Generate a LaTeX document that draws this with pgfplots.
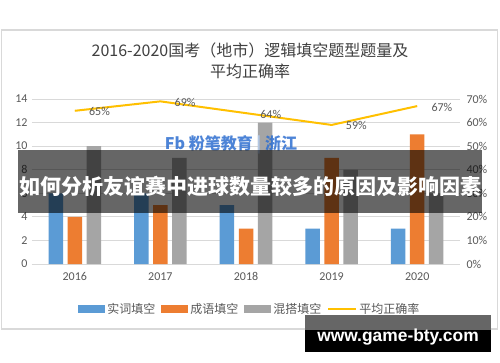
\documentclass[border=0pt]{standalone}
\usepackage{pgfplots}
\pgfplotsset{compat=1.18}
\usepackage{fontspec}
\setmainfont{Carlito}
\newfontfamily\cjk{Noto Sans CJK SC}
\newfontfamily\wmfont{Liberation Sans}
\definecolor{cblue}{HTML}{5B9BD5}
\definecolor{corange}{HTML}{ED7D31}
\definecolor{cgray}{HTML}{A5A5A5}
\definecolor{cgold}{HTML}{FFC000}
\definecolor{ctext}{HTML}{595959}
\definecolor{cgrid}{HTML}{D9D9D9}
\definecolor{logoblue}{HTML}{2F6FD0}
\begin{document}
\begin{tikzpicture}
\fill[white] (0pt,0pt) rectangle (500pt,362pt);
\draw[cgrid, line width=1.2pt] (1.5pt,33pt) rectangle (497.5pt,332pt);
\node[font=\cjk\fontsize{16}{21}\selectfont, text=black!75, align=center] at (250pt,301pt) {2016-2020国考（地市）逻辑填空题型题量及\\平均正确率};
\begin{axis}[at={(32pt,98pt)}, anchor=south west, scale only axis,
  width=428pt, height=165pt,
  xmin=-0.5, xmax=4.5, ymin=0, ymax=14,
  ytick={0,2,...,14}, xtick={0,1,2,3,4},
  xticklabels={2016,2017,2018,2019,2020},
  ybar=4.5pt, bar width=14.5pt,
  axis y line*=left, axis x line*=bottom,
  y axis line style={draw=none},
  x axis line style={cgrid, line width=0.8pt, -},
  ymajorgrids, grid style={cgrid, line width=0.8pt},
  major tick length=0pt,
  /pgf/number format/assume math mode=true,
  tick label style={font=\fontsize{12}{14}\selectfont, text=ctext},
  yticklabel style={xshift=-1pt},
  xticklabel style={yshift=-5pt},
  legend style={at={(0.509,-0.273)}, anchor=center, draw=none, fill=none,
    legend columns=4, font=\cjk\fontsize{12}{14}\selectfont, text=ctext,
    /tikz/every even column/.append style={column sep=4pt},
    legend cell align=left},
]
\addplot[fill=cblue, draw=none, legend image code/.code={\fill[cblue] (0pt,-4pt) rectangle (27pt,4pt);}] coordinates {(0,6) (1,6) (2,5) (3,3) (4,3)};
\addlegendentry{实词填空}
\addplot[fill=corange, draw=none, legend image code/.code={\fill[corange] (0pt,-4pt) rectangle (27pt,4pt);}] coordinates {(0,4) (1,5) (2,3) (3,9) (4,11)};
\addlegendentry{成语填空}
\addplot[fill=cgray, draw=none, legend image code/.code={\fill[cgray] (0pt,-4pt) rectangle (27pt,4pt);}] coordinates {(0,10) (1,9) (2,12) (3,8) (4,6)};
\addlegendentry{混搭填空}
\addlegendimage{legend image code/.code={\draw[cgold, line width=2pt] (0pt,0pt) -- (28pt,0pt);}}
\addlegendentry{平均正确率}
\end{axis}
\begin{axis}[at={(32pt,98pt)}, anchor=south west, scale only axis,
  width=428pt, height=165pt,
  xmin=-0.5, xmax=4.5, ymin=0, ymax=70,
  ytick={0,10,...,70},
  axis y line*=right, axis x line=none,
  y axis line style={draw=none},
  major tick length=0pt,
  /pgf/number format/assume math mode=true,
  yticklabel={\pgfmathprintnumber{\tick}\%},
  tick label style={font=\fontsize{12}{14}\selectfont, text=ctext},
  yticklabel style={xshift=3pt},
  nodes near coords={\pgfmathprintnumber{\pgfplotspointmeta}\%},
  every node near coord/.append style={anchor=west, xshift=10pt, yshift=-1pt, font=\fontsize{12}{14}\selectfont, text=ctext},
]
\addplot[cgold, line width=2pt, mark=none] coordinates {(0,65) (1,69) (2,64) (3,59) (4,67)};
\end{axis}
\node[text=logoblue, opacity=0.85, font=\cjk\bfseries\fontsize{16}{16}\selectfont] at (231pt,217pt) {Fb 粉笔教育 \textcolor{logoblue!35}{|} 浙江};
\fill[black, opacity=0.6] (18pt,149pt) rectangle (482pt,212pt);
\node[text=white, font=\cjk\bfseries\fontsize{21}{21}\selectfont] at (250pt,176pt) {如何分析友谊赛中进球数量较多的原因及影响因素};
\fill[black!60] (305pt,32pt) rectangle (491pt,47pt);
\fill[black] (305pt,10pt) rectangle (491pt,32pt);
\node[text=white, font=\wmfont\bfseries\fontsize{17.4}{18}\selectfont] at (398pt,25pt) {www.game-bty.com};
\end{tikzpicture}
\end{document}
